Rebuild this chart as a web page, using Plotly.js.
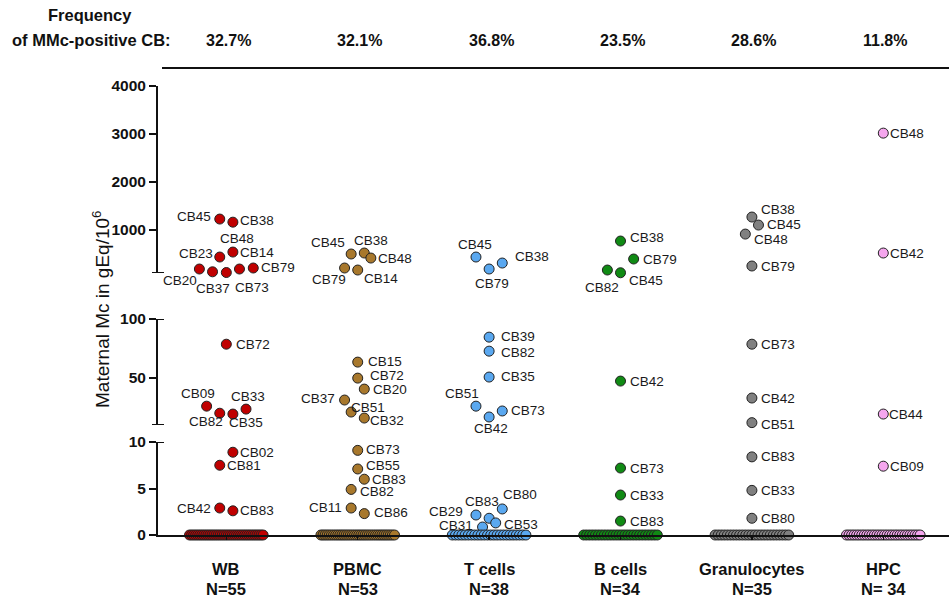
<!DOCTYPE html>
<html><head><meta charset="utf-8">
<script src="https://cdn.plot.ly/plotly-3.0.1.min.js"></script>
<style>html,body{margin:0;padding:0;background:#fff;}</style>
</head><body><div id="chart" style="width:949px;height:598px;"></div>
<script>
// ---------------- DATA ----------------
const categories = ['WB', 'PBMC', 'T cells', 'B cells', 'Granulocytes', 'HPC'];
const sampleSizes = ['N=55', 'N=53', 'N=38', 'N=34', 'N=35', 'N= 34'];
const frequencies = ['32.7%', '32.1%', '36.8%', '23.5%', '28.6%', '11.8%'];

const wbValues = [1225, 1160, 433, 537, 183, 125, 110, 183, 204, 78.6, 26, 20, 19.3, 23.5, 8.9, 7.5, 2.9, 2.6,
  0,0,0,0,0,0,0,0,0,0,0,0,0,0,0,0,0,0,0,0,0,0,0,0,0,0,0,0,0,0,0,0,0,0,0,0,0];
const wbLabels = ['CB45','CB38','CB23','CB14','CB20','CB37','CB48','CB73','CB79','CB72','CB09','CB82','CB35','CB33','CB02','CB81','CB42','CB83'];

const pbmcValues = [496, 517, 412, 204, 162, 63.4, 49.8, 40.5, 31.2, 21, 15.9, 9.1, 7.1, 6.0, 4.9, 2.9, 2.3,
  0,0,0,0,0,0,0,0,0,0,0,0,0,0,0,0,0,0,0,0,0,0,0,0,0,0,0,0,0,0,0,0,0,0,0,0];
const pbmcLabels = ['CB45','CB38','CB48','CB79','CB14','CB15','CB72','CB20','CB37','CB51','CB32','CB73','CB55','CB83','CB82','CB11','CB86'];

const tcellValues = [433, 183, 308, 84.6, 72.7, 50.7, 26, 21.9, 16.8, 2.15, 1.8, 2.8, 1.3, 0.86,
  0,0,0,0,0,0,0,0,0,0,0,0,0,0,0,0,0,0,0,0,0,0,0,0];
const tcellLabels = ['CB45','CB79','CB38','CB39','CB82','CB35','CB51','CB73','CB42','CB29','CB83','CB80','CB53','CB31'];

const bcellValues = [767, 392, 162, 105, 47.3, 7.2, 4.3, 1.5,
  0,0,0,0,0,0,0,0,0,0,0,0,0,0,0,0,0,0,0,0,0,0,0,0,0,0];
const bcellLabels = ['CB38','CB79','CB82','CB45','CB42','CB73','CB33','CB83'];

const granValues = [1267, 1100, 912, 246, 78.6, 32.9, 12, 8.4, 4.8, 1.8,
  0,0,0,0,0,0,0,0,0,0,0,0,0,0,0,0,0,0,0,0,0,0,0,0,0];
const granLabels = ['CB38','CB45','CB48','CB79','CB73','CB42','CB51','CB83','CB33','CB80'];

const hpcValues = [3017, 517, 19.3, 7.4,
  0,0,0,0,0,0,0,0,0,0,0,0,0,0,0,0,0,0,0,0,0,0,0,0,0,0,0,0,0,0];
const hpcLabels = ['CB48','CB42','CB44','CB09'];

// ---------------- PRESENTATION (scatter spread, label placement, colours) ----------------
const wbSpread   = [-0.05,0.05,-0.05,0.05,-0.205,-0.105,0,0.1,0.205,0,-0.15,-0.05,0.05,0.15,0.05,-0.05,-0.05,0.05];
const pbmcSpread = [-0.05,0.05,0.1,-0.1,0,0,0,0.05,-0.1,-0.05,0.05,0,0,0.05,-0.05,-0.05,0.05];
const tcellSpread= [-0.1,0,0.1,0,0,0,-0.1,0.1,0,-0.1,0,0.1,0.05,-0.05];
const bcellSpread= [0,0.1,-0.1,0,0,0,0,0];
const granSpread = [0,0.05,-0.05,0,0,0,0,0,0,0];
const hpcSpread  = [0,0,0,0];

const wbLabelShift   = [[-26,-3],[24,-2],[-24,-4],[24,0],[-19,11],[0,17],[11,-34],[13,18],[25,-1],[27,0],[-9,-13],[-14,8],[13,8],[2,-13],[24,0],[24,0],[-26,0],[24,0]];
const pbmcLabelShift = [[-23,-12],[7,-13],[24,0],[-16,11],[23,8],[27,-1],[29,-3],[26,0],[-27,-2],[17,-5],[23,2],[25,-1],[25,-3],[25,0],[26,2],[-26,-1],[27,-1]];
const tcellLabelShift= [[-1,-13],[3,14],[30,-7],[29,-1],[29,1],[29,-1],[-14,-13],[26,0],[2,12],[-30,-4],[-7,-17],[18,-14],[25,2],[-27,-2]];
const bcellLabelShift= [[26,-4],[26,0],[-5,17],[25,8],[26,0],[26,0],[26,0],[26,0]];
const granLabelShift = [[26,-8],[26,-1],[26,5],[26,0],[26,0],[26,0],[26,2],[26,0],[26,0],[26,0]];
const hpcLabelShift  = [[24,0],[24,0],[23,0],[24,0]];

const groupColors = ['#c00000', '#a8782c', '#5aa8f0', '#108a14', '#808080', '#f5a6ee'];

const groups = [
  {values: wbValues,    labels: wbLabels,    spread: wbSpread,    shift: wbLabelShift},
  {values: pbmcValues,  labels: pbmcLabels,  spread: pbmcSpread,  shift: pbmcLabelShift},
  {values: tcellValues, labels: tcellLabels, spread: tcellSpread, shift: tcellLabelShift},
  {values: bcellValues, labels: bcellLabels, spread: bcellSpread, shift: bcellLabelShift},
  {values: granValues,  labels: granLabels,  spread: granSpread,  shift: granLabelShift},
  {values: hpcValues,   labels: hpcLabels,   spread: hpcSpread,   shift: hpcLabelShift}
];

// layout geometry
const M = {l: 158, r: 0, t: 86, b: 63};
const W = 949, H = 598;
const PW = W - M.l - M.r, PH = H - M.t - M.b;
const px2x = p => (p - M.l) / PW;
const px2y = p => (H - M.b - p) / PH;
const zeroHalfWidth = 0.28;

function axisFor(v) { return v >= 100 ? 'y3' : (v >= 10 ? 'y2' : 'y'); }

const traces = [];
const annotations = [];
const font = 'Liberation Sans, Arial, sans-serif';

groups.forEach((g, gi) => {
  const nZero = g.values.filter(v => v === 0).length;
  let zi = 0;
  const pts = {y: {x: [], y: []}, y2: {x: [], y: []}, y3: {x: [], y: []}};
  let pi = 0;
  g.values.forEach(v => {
    let xo;
    if (v === 0) {
      xo = nZero > 1 ? -zeroHalfWidth + 2 * zeroHalfWidth * zi / (nZero - 1) : 0;
      zi++;
    } else {
      xo = g.spread[pi];
      const ax = axisFor(v);
      annotations.push({
        x: gi + xo, y: v, xref: 'x', yref: ax, text: g.labels[pi], showarrow: false,
        xanchor: 'center', yanchor: 'middle',
        xshift: g.shift[pi][0], yshift: -g.shift[pi][1],
        font: {family: font, size: 13.5, color: '#1a1a1a'}
      });
      pi++;
    }
    const ax = axisFor(v);
    pts[ax].x.push(gi + xo);
    pts[ax].y.push(v);
  });
  ['y', 'y2', 'y3'].forEach(ax => {
    if (!pts[ax].x.length) return;
    traces.push({
      type: 'scatter', mode: 'markers', x: pts[ax].x, y: pts[ax].y, yaxis: ax, xaxis: 'x',
      cliponaxis: false, hoverinfo: 'skip', showlegend: false,
      marker: {size: 10, color: groupColors[gi], line: {color: '#222', width: 1}}
    });
  });
});

// header
const hdrFont = {family: font, size: 16.5, color: '#111'};
annotations.push({xref: 'paper', yref: 'paper', x: px2x(90), y: px2y(15), text: '<b>Frequency</b>',
  showarrow: false, xanchor: 'center', yanchor: 'middle', font: hdrFont});
annotations.push({xref: 'paper', yref: 'paper', x: px2x(91), y: px2y(40), text: '<b>of MMc-positive CB:</b>',
  showarrow: false, xanchor: 'center', yanchor: 'middle', font: hdrFont});
frequencies.forEach((f, i) => {
  annotations.push({xref: 'x', yref: 'paper', x: i, y: px2y(40), xshift: 2, text: '<b>' + f + '</b>',
    showarrow: false, xanchor: 'center', yanchor: 'middle', font: {family: font, size: 16, color: '#111'}});
});
// category labels under the axis
categories.forEach((c, i) => {
  annotations.push({xref: 'x', yref: 'paper', x: i, y: px2y(569), text: '<b>' + c + '</b>',
    showarrow: false, xanchor: 'center', yanchor: 'middle', font: {family: font, size: 16.5, color: '#111'}});
  annotations.push({xref: 'x', yref: 'paper', x: i, y: px2y(589), text: '<b>' + sampleSizes[i] + '</b>',
    showarrow: false, xanchor: 'center', yanchor: 'middle', font: {family: font, size: 16.5, color: '#111'}});
});
// y title
annotations.push({xref: 'paper', yref: 'paper', x: px2x(101), y: px2y(309), textangle: -90,
  text: 'Maternal Mc in gEq/10<sup>6</sup>', showarrow: false, xanchor: 'center', yanchor: 'middle',
  font: {family: font, size: 19, color: '#111'}});

const capHalf = 6 / PW;
const shapes = [
  {type: 'line', xref: 'paper', yref: 'paper', x0: px2x(162), x1: 1, y0: px2y(68), y1: px2y(68), line: {color: '#111', width: 2}},
  {type: 'line', xref: 'paper', yref: 'y3', x0: -capHalf, x1: capHalf, y0: 100, y1: 100, line: {color: '#111', width: 2}},
  {type: 'line', xref: 'paper', yref: 'y2', x0: -capHalf, x1: capHalf, y0: 100, y1: 100, line: {color: '#111', width: 2}},
  {type: 'line', xref: 'paper', yref: 'y2', x0: -capHalf, x1: capHalf, y0: 10, y1: 10, line: {color: '#111', width: 2}},
  {type: 'line', xref: 'paper', yref: 'y', x0: -capHalf, x1: capHalf, y0: 10, y1: 10, line: {color: '#111', width: 2}}
];

const yCommon = {
  anchor: 'x', showline: true, linecolor: '#111', linewidth: 2, ticks: 'outside', ticklen: 7, tickwidth: 2,
  tickcolor: '#111', showgrid: false, zeroline: false, fixedrange: true,
  tickfont: {family: font, size: 15.5, color: '#111', weight: 'bold'}
};
const d1 = (H - M.b - 442) / PH, d2a = (H - M.b - 425) / PH, d2b = (H - M.b - 319) / PH, d3a = (H - M.b - 273) / PH;

const layout = {
  width: W, height: H, margin: M, paper_bgcolor: '#fff', plot_bgcolor: '#fff', showlegend: false,
  xaxis: {
    range: [-0.52, 5.5], showline: true, linecolor: '#111', linewidth: 1.5, anchor: 'y',
    tickvals: categories.map((c, i) => i), showticklabels: false,
    ticks: 'outside', ticklen: 3, tickwidth: 1.5, tickcolor: '#111',
    showgrid: false, zeroline: false, fixedrange: true
  },
  yaxis: Object.assign({}, yCommon, {domain: [0, d1], range: [0, 10], tickvals: [0, 5, 10]}),
  yaxis2: Object.assign({}, yCommon, {domain: [d2a, d2b], range: [10, 100], tickvals: [50, 100]}),
  yaxis3: Object.assign({}, yCommon, {domain: [d3a, 1], range: [100, 4000], tickvals: [1000, 2000, 3000, 4000]}),
  annotations: annotations,
  shapes: shapes
};

Plotly.newPlot('chart', traces, layout, {displayModeBar: false, staticPlot: true});
</script>
</body></html>
